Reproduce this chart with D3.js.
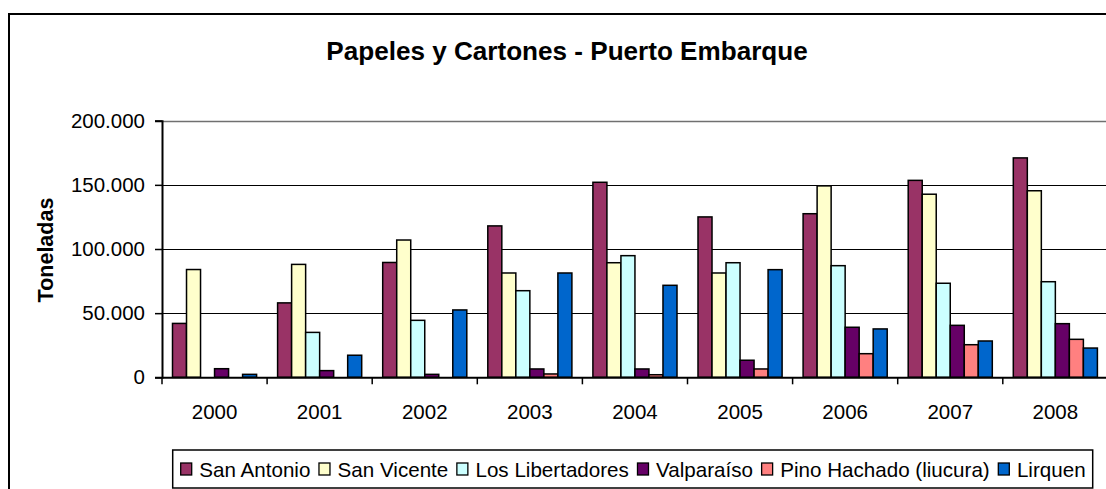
<!DOCTYPE html>
<html>
<head>
<meta charset="utf-8">
<script src="https://cdn.jsdelivr.net/npm/d3@7"></script>
<style>
  html, body { margin: 0; padding: 0; background: #fff; overflow: hidden; }
  svg { display: block; font-family: "Liberation Sans", Arial, sans-serif; }
</style>
</head>
<body>
<svg id="chart" width="1106" height="489"></svg>
<script>
// ---- data ----
const years = ["2000", "2001", "2002", "2003", "2004", "2005", "2006", "2007", "2008"];
const seriesNames = ["San Antonio", "San Vicente", "Los Libertadores", "Valparaíso", "Pino Hachado (liucura)", "Lirquen"];
const seriesColors = ["#993366", "#FFFFCC", "#CCFFFF", "#660066", "#FF8080", "#0066CC"];
const sanAntonio      = [42000, 58000, 89500, 118000, 152000, 125000, 127500, 153500, 171000];
const sanVicente      = [84000, 88000, 107000, 81300, 89300, 81300, 149200, 142700, 145400];
const losLibertadores = [0, 35000, 44400, 67500, 94800, 89300, 87000, 73300, 74500];
const valparaiso      = [6700, 5200, 2300, 6500, 6500, 13300, 39000, 40500, 41800];
const pinoHachado     = [0, 0, 0, 2600, 2000, 6500, 18400, 25400, 29600];
const lirquen         = [2300, 17200, 52500, 81300, 71700, 83900, 37700, 28300, 22800];
const yTicks = [0, 50000, 100000, 150000, 200000];
const title = "Papeles y Cartones - Puerto Embarque";
const yTitle = "Toneladas";

const seriesValues = [sanAntonio, sanVicente, losLibertadores, valparaiso, pinoHachado, lirquen];

// ---- layout ----
const svg = d3.select("#chart");
const plot = { left: 162, top: 120.7, bottom: 377.3, band: 105.1 };
plot.right = plot.left + plot.band * years.length;

const locale = d3.formatLocale({ decimal: ",", thousands: ".", grouping: [3], currency: ["$", ""] });
const fmt = locale.format(",d");

const x = d3.scaleBand().domain(years).range([plot.left, plot.right]).paddingInner(0).paddingOuter(0);
const xs = d3.scaleBand().domain(seriesNames).range([10.5, plot.band - 10.5]).padding(0);
const y = d3.scaleLinear().domain([0, 200000]).range([plot.bottom, plot.top]);

// outer frame
svg.append("rect").attr("x", 0).attr("y", 0).attr("width", 1106).attr("height", 489).attr("fill", "#fff");
svg.append("rect").attr("x", 9).attr("y", 14).attr("width", 1300).attr("height", 700)
  .attr("fill", "none").attr("stroke", "#000").attr("stroke-width", 2);

// title
svg.append("text").attr("x", 567).attr("y", 60).attr("text-anchor", "middle")
  .attr("font-size", 26.1).attr("font-weight", "bold").attr("fill", "#000").text(title);

// gridlines
svg.append("g").selectAll("line").data(yTicks.filter(d => d > 0)).join("line")
  .attr("x1", plot.left).attr("x2", plot.right)
  .attr("y1", d => Math.round(y(d)) + 0.5).attr("y2", d => Math.round(y(d)) + 0.5)
  .attr("stroke", d => d === 200000 ? "#707070" : "#000").attr("stroke-width", d => d === 200000 ? 1.5 : 1.2);

// bars
const flat = [];
years.forEach((yr, i) => seriesNames.forEach((s, j) => {
  if (seriesValues[j][i] > 0) flat.push({ yr, s, j, v: seriesValues[j][i] });
}));
svg.append("g").selectAll("rect").data(flat).join("rect")
  .attr("x", d => x(d.yr) + xs(d.s))
  .attr("width", xs.bandwidth())
  .attr("y", d => y(d.v))
  .attr("height", d => y(0) - y(d.v))
  .attr("fill", d => seriesColors[d.j])
  .attr("stroke", "#000").attr("stroke-width", 1.5);

// y axis
const yAxis = d3.axisLeft(y).tickValues(yTicks).tickFormat(d => fmt(d)).tickSize(7).tickPadding(10);
const gy = svg.append("g").attr("transform", `translate(${plot.left},0)`).call(yAxis);
gy.select(".domain").attr("stroke", "#000").attr("stroke-width", 2);
gy.selectAll(".tick line").attr("stroke", "#000").attr("stroke-width", 1.5);
gy.selectAll(".tick text").attr("font-size", 20.5).attr("fill", "#000")
  .attr("font-family", "'Liberation Sans', Arial, sans-serif");

// x axis
const xAxis = d3.axisBottom(x).tickSize(0).tickPadding(0);
const gx = svg.append("g").attr("transform", `translate(0,${plot.bottom})`).call(xAxis);
gx.select(".domain").attr("stroke", "#000").attr("stroke-width", 2);
gx.selectAll(".tick text").attr("font-size", 20.5).attr("fill", "#000").attr("dy", 0).attr("y", 42)
  .attr("font-family", "'Liberation Sans', Arial, sans-serif");
// category boundary ticks
svg.append("g").selectAll("line").data(years.concat(["end"])).join("line")
  .attr("x1", (d, i) => plot.left + i * x.step()).attr("x2", (d, i) => plot.left + i * x.step())
  .attr("y1", plot.bottom).attr("y2", plot.bottom + 7)
  .attr("stroke", "#000").attr("stroke-width", 1.5);

// y title
svg.append("text").attr("transform", "translate(53,250) rotate(-90)")
  .attr("text-anchor", "middle").attr("font-size", 21.5).attr("font-weight", "bold").attr("fill", "#000")
  .text(yTitle);

// legend
const legend = svg.append("g");
legend.append("rect").attr("x", 172.7).attr("y", 450).attr("width", 920).attr("height", 38)
  .attr("fill", "#fff").attr("stroke", "#000").attr("stroke-width", 1.5);
let lx = 180.7;
seriesNames.forEach((s, j) => {
  legend.append("rect").attr("x", lx).attr("y", 463).attr("width", 11).attr("height", 12)
    .attr("fill", seriesColors[j]).attr("stroke", "#000").attr("stroke-width", 1.3);
  const t = legend.append("text").attr("x", lx + 18.6).attr("y", 476.5)
    .attr("font-size", 20.6).attr("fill", "#000").text(s);
  lx += 18.6 + t.node().getComputedTextLength() + 8.6;
});
</script>
</body>
</html>
